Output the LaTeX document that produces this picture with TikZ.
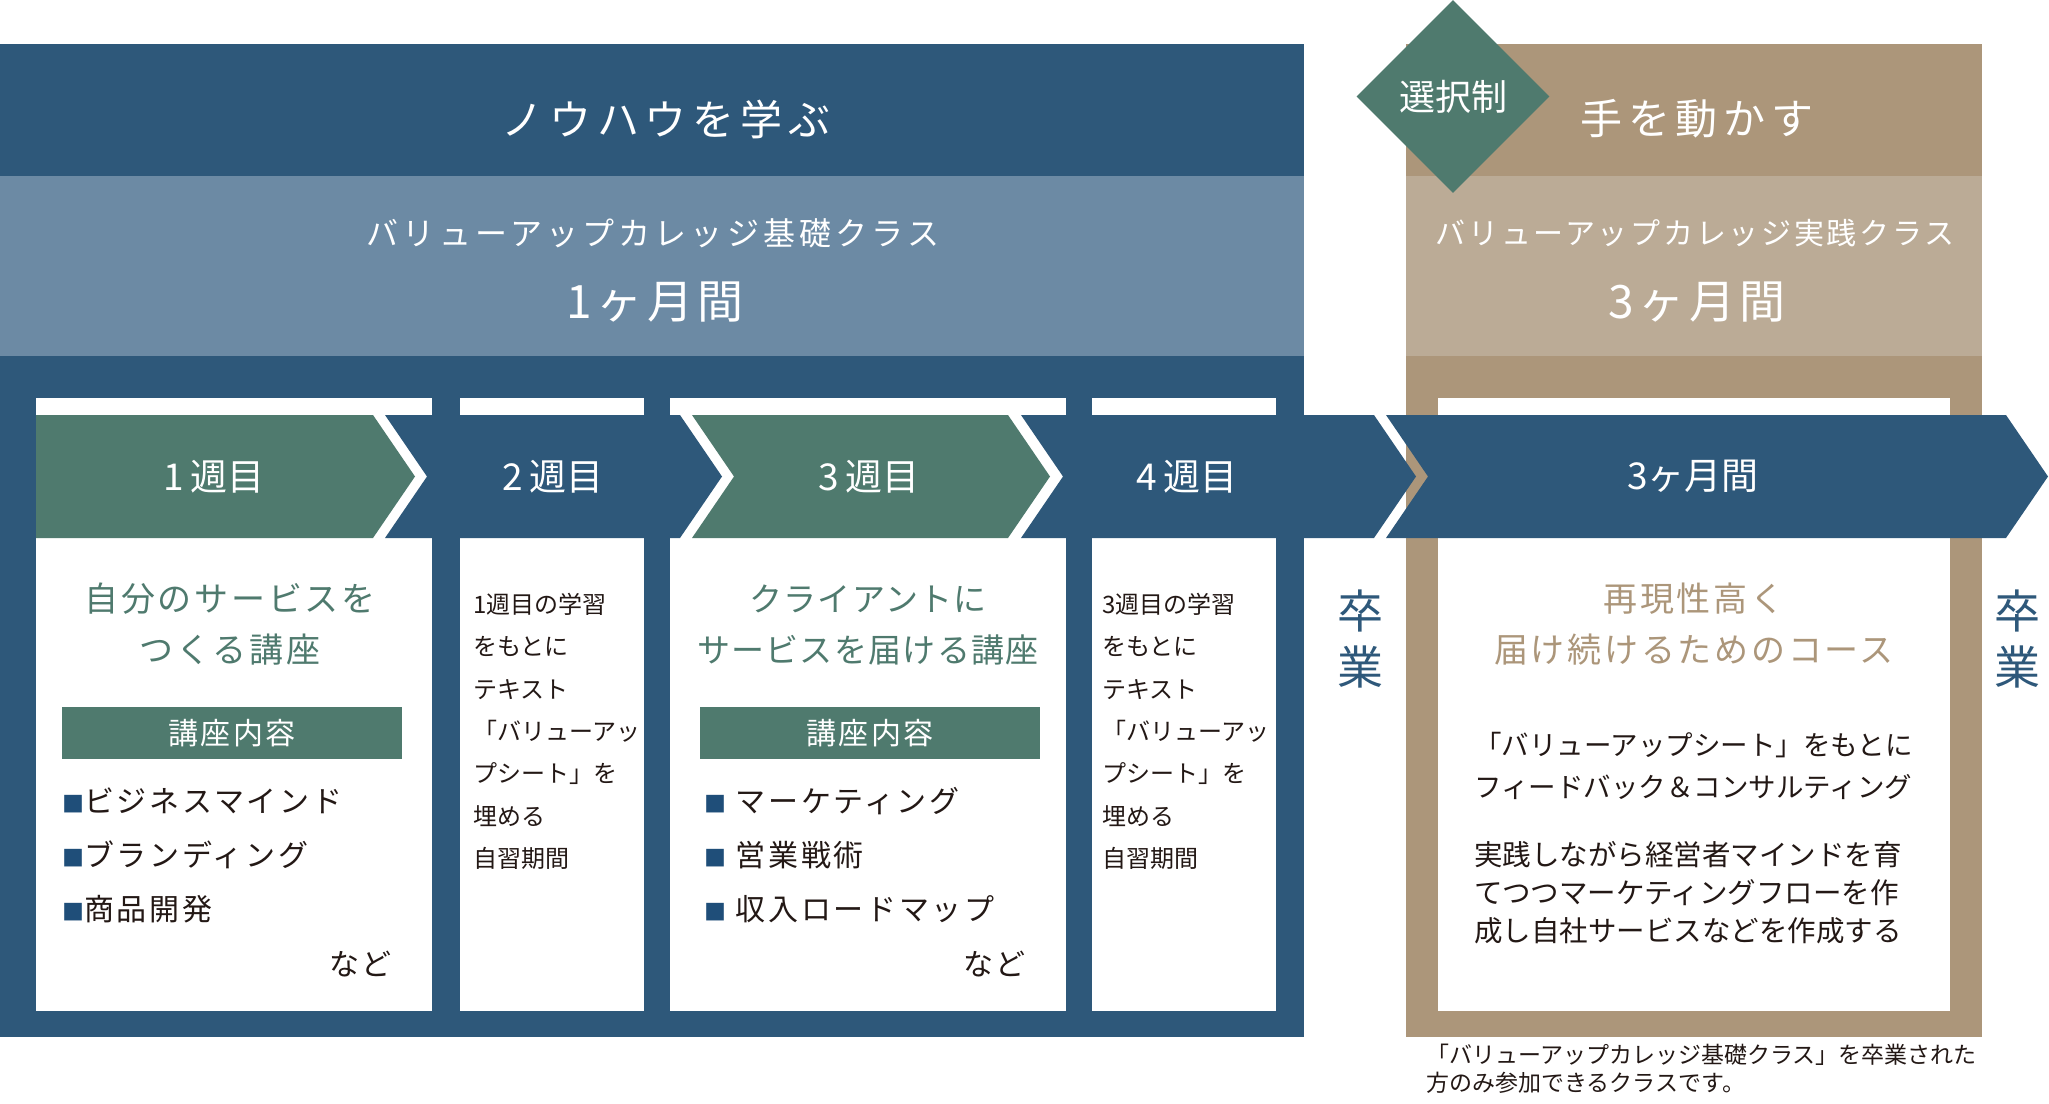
\documentclass[tikz,border=0pt]{standalone}
\usepackage{fontspec}
\setmainfont{Noto Sans CJK JP}
\usetikzlibrary{shapes.geometric}

\definecolor{nblue}{RGB}{46,88,122}
\definecolor{lblue}{RGB}{108,138,164}
\definecolor{grn}{RGB}{79,122,110}
\definecolor{ktan}{RGB}{172,150,122}
\definecolor{ltan}{RGB}{187,171,150}
\definecolor{bul}{RGB}{31,78,121}
\definecolor{ink}{RGB}{35,24,21}
\newcommand\trk[1]{\addfontfeature{LetterSpace=#1}}
\newcommand\sq{{\color{bul}\fontsize{22}{22}\selectfont ■}}

\begin{document}
\begin{tikzpicture}[x=1pt,y=-1pt,
    hd/.style={text=white,font=\fontsize{42}{50}\selectfont\trk{14}},
    sub/.style={text=white,font=\fontsize{32}{40}\selectfont\trk{13}},
    mon/.style={text=white,font=\fontsize{46}{50}\selectfont\trk{10}},
    wk/.style={text=white,font=\fontsize{37}{40}\selectfont},
    ttl/.style={align=center,font=\fontsize{34}{51}\selectfont\trk{8}},
    tag/.style={fill=grn,text=white,minimum width=340,minimum height=52,inner sep=0,font=\fontsize{30}{30}\selectfont\trk{8}},
    item/.style={anchor=west,inner sep=0,text=ink,font=\fontsize{30}{30}\selectfont\trk{9}},
    memo/.style={anchor=west,align=left,inner sep=0,text=ink,font=\fontsize{24}{42.35}\selectfont},
    grad/.style={text=nblue,align=center,font=\fontsize{46}{56.5}\selectfont}]
    \useasboundingbox (0,0) rectangle (2049,1103);
    % boxes
    \fill[nblue] (0,44) rectangle (1304,1037);
    \fill[lblue] (0,176) rectangle (1304,356);
    \fill[ktan] (1406,44) rectangle (1982,1037);
    \fill[ltan] (1406,176) rectangle (1982,356);
    % cards
    \fill[white] (36,398) rectangle (432,1011);
    \fill[white] (460,398) rectangle (644,1011);
    \fill[white] (670,398) rectangle (1066,1011);
    \fill[white] (1092,398) rectangle (1276,1011);
    \fill[white] (1438,398) rectangle (1950,1011);
    % arrows
    \fill[grn] (36,415) -- (373,415) -- (415,476.5) -- (373,538) -- (36,538) -- cycle;
    \fill[nblue] (385,415) -- (680,415) -- (722,476.5) -- (680,538) -- (385,538) -- (427,476.5) -- cycle;
    \fill[grn] (692,415) -- (1008,415) -- (1050,476.5) -- (1008,538) -- (692,538) -- (734,476.5) -- cycle;
    \fill[nblue] (1021,415) -- (1374,415) -- (1416,476.5) -- (1374,538) -- (1021,538) -- (1063,476.5) -- cycle;
    \fill[nblue] (1386,415) -- (2006,415) -- (2048,476.5) -- (2006,538) -- (1386,538) -- (1428,476.5) -- cycle;

    % headers
    \node[hd] (learn) at (666,119) {ノウハウを学ぶ};
    \node[sub] (basic) at (653,233) {バリューアップカレッジ基礎クラス};
    \node[mon] (m1) at (655,302) {1ヶ月間};
    \node[hd] (hands) at (1697,119) {手を動かす};
    \node[sub,font=\fontsize{30}{40}\selectfont\trk{9}] (prac) at (1695,233) {バリューアップカレッジ実践クラス};
    \node[mon] (m3) at (1697,302) {3ヶ月間};
    \node[diamond,fill=grn,minimum width=193,minimum height=193,inner sep=0,
      text=white,font=\fontsize{36}{36}\selectfont] (sel) at (1453,96.5) {選択制};

    % arrow labels
    \node[wk] (w1) at (214,476.5) {1\,週目};
    \node[wk] (w2) at (553,476.5) {2\,週目};
    \node[wk] (w3) at (869,476.5) {3\,週目};
    \node[wk] (w4) at (1187,476.5) {4\,週目};
    \node[wk] (w5) at (1693,476.5) {3ヶ月間};

    % week 1
    \node[ttl,text=grn] (t1) at (230,624.5) {自分のサービスを\\つくる講座};
    \node[tag] (k1) at (232,733) {講座内容};
    \node[item] (i11) at (62,801) {\sq ビジネスマインド};
    \node[item] (i12) at (62,855) {\sq ブランディング};
    \node[item] (i13) at (62,909.5) {\sq 商品開発};
    \node[item,anchor=east] (e1) at (392,964) {など};

    % week 2
    \node[memo] (s2) at (473,731.3) {1週目の学習\\をもとに\\テキスト\\「バリューアッ\\プシート」を\\埋める\\自習期間};

    % week 3
    \node[ttl,text=grn,font=\fontsize{33}{51}\selectfont\trk{4}] (t3) at (868,624.5) {クライアントに\\サービスを届ける講座};
    \node[tag] (k3) at (870,733) {講座内容};
    \node[item] (i31) at (704,801) {\sq\ マーケティング};
    \node[item] (i32) at (704,855) {\sq\ 営業戦術};
    \node[item] (i33) at (704,909.5) {\sq\ 収入ロードマップ};
    \node[item,anchor=east] (e3) at (1026,964) {など};

    % week 4
    \node[memo] (s4) at (1102,731.3) {3週目の学習\\をもとに\\テキスト\\「バリューアッ\\プシート」を\\埋める\\自習期間};

    % graduation
    \node[grad] (g1) at (1360,639) {卒\\業};
    \node[grad] (g2) at (2017,639) {卒\\業};

    % practice course
    \node[ttl,text=ktan] (t5) at (1694,624.5) {再現性高く\\届け続けるためのコース};
    \node[memo,font=\fontsize{27.5}{42}\selectfont] (b51) at (1474,765.7) {「バリューアップシート」をもとに\\フィードバック＆コンサルティング};
    \node[memo,font=\fontsize{28.5}{38}\selectfont] (b52) at (1474,893) {実践しながら経営者マインドを育\\てつつマーケティングフローを作\\成し自社サービスなどを作成する};
    \node[memo,font=\fontsize{23}{28}\selectfont] (note) at (1426,1069) {「バリューアップカレッジ基礎クラス」を卒業された\\方のみ参加できるクラスです。};
  \end{tikzpicture}
\end{document}
